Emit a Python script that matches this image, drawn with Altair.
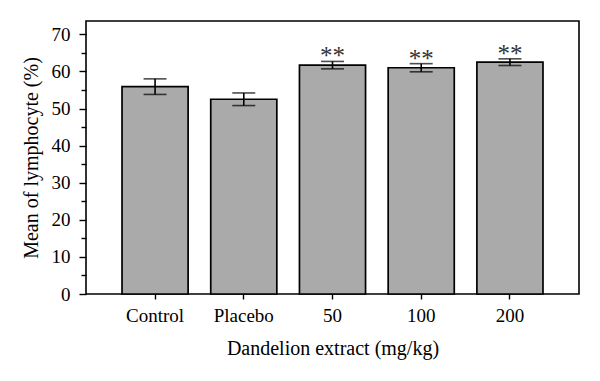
import altair as alt
import pandas as pd

categories = ["Control", "Placebo", "50", "100", "200"]
means = [55.9, 52.5, 61.7, 61.0, 62.5]
errors = [2.1, 1.7, 1.0, 1.1, 0.9]
marks = ["", "", "**", "**", "**"]
y_ticks = list(range(0, 75, 5))

df = pd.DataFrame({
    "cat": categories,
    "mean": means,
    "lo": [m - e for m, e in zip(means, errors)],
    "hi": [m + e for m, e in zip(means, errors)],
    "sig": marks,
})

FONT = "Liberation Serif"

x_axis = alt.Axis(labelAngle=0, tickSize=5, labelPadding=7, titlePadding=13, domain=False)
x_scale = alt.Scale(paddingInner=0.255, paddingOuter=0.406)
X_TITLE = "Dandelion extract (mg/kg)"


def xenc():
    return alt.X("cat:N", sort=categories, title=X_TITLE, scale=x_scale, axis=x_axis)


y_scale = alt.Scale(domain=[0, 73.6], nice=False, zero=True)
y_axis = alt.Axis(
    values=y_ticks,
    labelExpr="datum.value % 10 === 0 ? datum.label : ''",
    tickSize={"condition": {"test": "datum.value % 10 === 0", "value": 7}, "value": 5},
    labelPadding=9,
    titlePadding=10,
    grid=False,
    domain=False,
)
Y_TITLE = "Mean of lymphocyte (%)"


def yenc(field):
    return alt.Y(field, scale=y_scale, title=Y_TITLE, axis=y_axis)


base = alt.Chart(df)

bars = base.mark_bar(color="#aaaaaa", stroke="black", strokeWidth=1.7).encode(
    x=xenc(), y=yenc("mean:Q"),
)

rules = base.mark_rule(color="black", strokeWidth=1.6).encode(
    x=xenc(), y=yenc("lo:Q"), y2="hi:Q",
)

caps_hi = base.mark_tick(color="black", thickness=1.6, size=23).encode(
    x=xenc(), y=yenc("hi:Q"),
)
caps_lo = base.mark_tick(color="black", thickness=1.6, size=23).encode(
    x=xenc(), y=yenc("lo:Q"),
)

stars = base.mark_text(font=FONT, fontSize=25, baseline="alphabetic", dy=3, color="#333333").encode(
    x=xenc(), y=yenc("hi:Q"), text="sig:N",
)

chart = (
    alt.layer(bars, rules, caps_lo, caps_hi, stars)
    .properties(
        width=493,
        height=273,
        autosize=alt.AutoSizeParams(type="none"),
        padding={"left": 78, "top": 13, "right": 13, "bottom": 79},
        background="white",
    )
    .configure_view(stroke="black", strokeWidth=1.6)
    .configure_axis(
        labelFont=FONT,
        titleFont=FONT,
        labelFontSize=19,
        titleFontSize=20,
        titleFontWeight="normal",
        labelColor="black",
        titleColor="black",
        tickColor="black",
        tickWidth=1.4,
    )
)

chart.save("out.html", embed_options={"renderer": "svg", "actions": False})
